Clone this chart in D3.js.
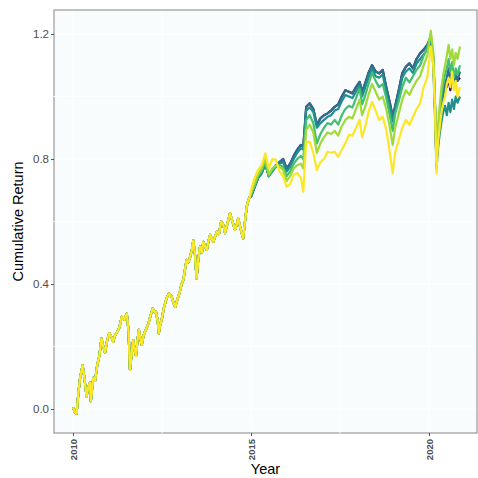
<!DOCTYPE html>
<html>
<head>
<meta charset="utf-8">
<script src="https://cdn.jsdelivr.net/npm/d3@7"></script>
<style>
  body { margin: 0; background: #fff; }
  svg { display: block; font-family: "Liberation Sans", Arial, sans-serif; }
</style>
</head>
<body>
<svg id="chart" width="478" height="478"></svg>
<script>
const W = 478, H = 478;
const M = { left: 54, right: 1, top: 10, bottom: 45 };

// shared path of all series, 2010 - 2014
const earlyYears = [2010.0, 2010.05, 2010.1, 2010.15, 2010.2, 2010.27, 2010.32, 2010.38, 2010.43, 2010.48,
  2010.5, 2010.57, 2010.62, 2010.68, 2010.74, 2010.8, 2010.85, 2010.9, 2010.96, 2011.02,
  2011.08, 2011.13, 2011.18, 2011.23, 2011.3, 2011.37, 2011.44, 2011.51, 2011.56, 2011.6,
  2011.65, 2011.69, 2011.73, 2011.77, 2011.81, 2011.85, 2011.9, 2011.93, 2011.98, 2012.02,
  2012.07, 2012.12, 2012.18, 2012.24, 2012.29, 2012.33, 2012.38, 2012.41, 2012.45, 2012.49,
  2012.53, 2012.56, 2012.63, 2012.7, 2012.77, 2012.82, 2012.87, 2012.93, 2013.0, 2013.05,
  2013.1, 2013.15, 2013.19, 2013.24, 2013.29, 2013.34, 2013.38, 2013.43, 2013.47, 2013.52,
  2013.57, 2013.62, 2013.66, 2013.71, 2013.76, 2013.8, 2013.85, 2013.9, 2013.94, 2014.0,
  2014.04, 2014.1, 2014.16, 2014.22, 2014.27, 2014.33, 2014.41, 2014.48, 2014.55, 2014.6,
  2014.64, 2014.7, 2014.78, 2014.83, 2014.88, 2014.93, 2014.97];
const earlyValues = [0.005, -0.01, -0.015, 0.05, 0.10, 0.14, 0.10, 0.04, 0.07, 0.085,
  0.025, 0.10, 0.09, 0.14, 0.17, 0.225, 0.20, 0.18, 0.22, 0.243,
  0.23, 0.215, 0.235, 0.245, 0.26, 0.295, 0.285, 0.305, 0.25, 0.125,
  0.18, 0.22, 0.19, 0.17, 0.22, 0.253, 0.22, 0.205, 0.235, 0.247,
  0.26, 0.274, 0.30, 0.322, 0.31, 0.311, 0.28, 0.242, 0.27, 0.285,
  0.31, 0.327, 0.355, 0.37, 0.36, 0.34, 0.327, 0.35, 0.375, 0.40,
  0.413, 0.45, 0.477, 0.47, 0.487, 0.51, 0.54, 0.49, 0.418, 0.48,
  0.52, 0.50, 0.535, 0.52, 0.509, 0.535, 0.557, 0.545, 0.535, 0.555,
  0.567, 0.56, 0.60, 0.59, 0.563, 0.59, 0.626, 0.60, 0.573, 0.59,
  0.61, 0.58, 0.546, 0.60, 0.647, 0.67, 0.68];

// 2015 onwards, where the series split
const lateYears = [2015.0, 2015.1, 2015.2, 2015.3, 2015.4, 2015.5, 2015.6, 2015.7, 2015.8, 2015.9,
  2016.0, 2016.1, 2016.2, 2016.3, 2016.4, 2016.47, 2016.55, 2016.65, 2016.75, 2016.85,
  2016.95, 2017.05, 2017.15, 2017.25, 2017.35, 2017.45, 2017.55, 2017.65, 2017.75, 2017.85,
  2017.95, 2018.05, 2018.12, 2018.2, 2018.3, 2018.4, 2018.5, 2018.6, 2018.7, 2018.8,
  2018.9, 2018.98, 2019.05, 2019.15, 2019.25, 2019.35, 2019.45, 2019.55, 2019.65, 2019.75,
  2019.85, 2019.95, 2020.05, 2020.12, 2020.17, 2020.21, 2020.25, 2020.3, 2020.35, 2020.4,
  2020.45, 2020.5, 2020.55, 2020.6, 2020.65, 2020.7, 2020.75, 2020.8, 2020.87];

const purpleLate = [0.68, 0.71, 0.74, 0.755, 0.785, 0.745, 0.765, 0.78, 0.79, 0.80,
  0.77, 0.785, 0.81, 0.83, 0.845, 0.84, 0.967, 0.978, 0.96, 0.91,
  0.93, 0.94, 0.946, 0.955, 0.967, 0.975, 1.0, 1.02, 1.015, 1.01,
  1.03, 1.047, 1.015, 1.04, 1.075, 1.10, 1.08, 1.074, 1.085, 1.03,
  0.98, 0.935, 0.97, 1.02, 1.075, 1.095, 1.106, 1.09, 1.12, 1.138,
  1.15, 1.165, 1.19, 1.12, 0.96, 0.78, 0.86, 0.92, 0.97, 1.01,
  1.03, 1.03, 1.06, 1.02, 1.07, 1.04, 1.065, 1.05, 1.06];
const blueLate = [0.68, 0.71, 0.74, 0.755, 0.785, 0.745, 0.765, 0.78, 0.79, 0.80,
  0.77, 0.785, 0.81, 0.83, 0.845, 0.84, 0.967, 0.978, 0.96, 0.91,
  0.93, 0.94, 0.946, 0.955, 0.967, 0.975, 1.0, 1.02, 1.015, 1.01,
  1.03, 1.047, 1.015, 1.04, 1.075, 1.10, 1.08, 1.074, 1.085, 1.03,
  0.98, 0.935, 0.97, 1.02, 1.075, 1.095, 1.106, 1.09, 1.12, 1.138,
  1.15, 1.165, 1.19, 1.12, 0.96, 0.78, 0.86, 0.92, 0.97, 1.01,
  1.04, 1.06, 1.09, 1.05, 1.08, 1.04, 1.07, 1.05, 1.08];
const tealLate = [0.68, 0.71, 0.74, 0.755, 0.785, 0.745, 0.76, 0.775, 0.785, 0.79,
  0.76, 0.775, 0.80, 0.82, 0.835, 0.83, 0.955, 0.965, 0.95, 0.90,
  0.915, 0.925, 0.935, 0.94, 0.955, 0.96, 0.985, 1.005, 1.0, 0.995,
  1.015, 1.035, 1.0, 1.025, 1.06, 1.09, 1.065, 1.06, 1.07, 1.015,
  0.965, 0.92, 0.96, 1.005, 1.06, 1.08, 1.09, 1.075, 1.105, 1.12,
  1.135, 1.15, 1.18, 1.10, 0.93, 0.77, 0.83, 0.88, 0.92, 0.95,
  0.97, 0.94, 0.98, 0.95, 0.99, 0.96, 1.0, 0.98, 1.0];
const greenLate = [0.685, 0.715, 0.745, 0.76, 0.79, 0.745, 0.765, 0.775, 0.78, 0.775,
  0.745, 0.76, 0.785, 0.80, 0.81, 0.80, 0.925, 0.94, 0.915, 0.85,
  0.88, 0.90, 0.915, 0.91, 0.925, 0.91, 0.94, 0.96, 0.97, 0.965,
  0.995, 1.025, 0.975, 1.0, 1.04, 1.075, 1.05, 1.03, 1.04, 0.995,
  0.94, 0.89, 0.945, 0.985, 1.03, 1.06, 1.045, 1.065, 1.085, 1.10,
  1.13, 1.155, 1.20, 1.13, 0.97, 0.79, 0.88, 0.95, 1.0, 1.04,
  1.07, 1.09, 1.12, 1.08, 1.11, 1.06, 1.09, 1.07, 1.10];
const limeLate = [0.69, 0.72, 0.75, 0.77, 0.80, 0.75, 0.77, 0.78, 0.775, 0.765,
  0.73, 0.745, 0.77, 0.78, 0.785, 0.77, 0.893, 0.91, 0.885, 0.82,
  0.85, 0.87, 0.885, 0.88, 0.89, 0.875, 0.905, 0.925, 0.935, 0.93,
  0.96, 0.99, 0.94, 0.965, 1.005, 1.04, 1.015, 0.99, 1.0, 0.96,
  0.90, 0.845, 0.90, 0.945, 0.99, 1.02, 1.005, 1.03, 1.05, 1.065,
  1.10, 1.13, 1.21, 1.14, 0.98, 0.80, 0.90, 0.97, 1.03, 1.07,
  1.10, 1.13, 1.165, 1.12, 1.15, 1.10, 1.14, 1.12, 1.16];
const yellowLate = [0.70, 0.74, 0.765, 0.78, 0.818, 0.77, 0.80, 0.797, 0.76, 0.745,
  0.711, 0.72, 0.75, 0.755, 0.74, 0.695, 0.855, 0.855, 0.82, 0.765,
  0.79, 0.80, 0.823, 0.82, 0.823, 0.807, 0.83, 0.85, 0.877, 0.875,
  0.90, 0.925, 0.87, 0.90, 0.95, 0.983, 0.955, 0.925, 0.935, 0.893,
  0.82, 0.754, 0.82, 0.861, 0.90, 0.925, 0.909, 0.935, 0.96, 0.978,
  1.03, 1.06, 1.16, 1.10, 0.95, 0.754, 0.85, 0.90, 0.95, 0.98,
  1.00, 1.04, 1.06, 1.03, 1.08, 1.02, 1.05, 1.00, 1.03];

const seriesNames = ['purple', 'blue', 'teal', 'green', 'lime', 'yellow'];
const seriesColors = ['#440154', '#2c6f8e', '#21908d', '#43bf71', '#a0da39', '#fde725'];
const seriesLate = [purpleLate, blueLate, tealLate, greenLate, limeLate, yellowLate];

const xTicks = [2010, 2015, 2020];
const yTicks = [0, 0.4, 0.8, 1.2];

const svg = d3.select('#chart');

const x = d3.scaleLinear()
  .domain([2009.466, 2021.348])
  .range([M.left, W - M.right]);
const y = d3.scaleLinear()
  .domain([-0.0768, 1.2768])
  .range([H - M.bottom, M.top]);

// panel
svg.append('rect')
  .attr('x', M.left).attr('y', M.top)
  .attr('width', W - M.left - M.right).attr('height', H - M.top - M.bottom)
  .attr('fill', '#f8fcfd')
  .attr('stroke', '#858585')
  .attr('stroke-width', 1);

// white grid lines, minor ones cut through the border like in the original
const minorX = [2012.5, 2017.5];
const minorY = [0.2, 0.6, 1.0];
const grid = svg.append('g').attr('stroke', '#ffffff').attr('stroke-width', 1);
grid.selectAll('.gx').data(xTicks.concat(minorX)).enter().append('line')
  .attr('x1', d => x(d)).attr('x2', d => x(d))
  .attr('y1', M.top + 1).attr('y2', d => minorX.includes(d) ? H - M.bottom + 0.5 : H - M.bottom - 1);
grid.selectAll('.gy').data(yTicks.concat(minorY)).enter().append('line')
  .attr('y1', d => y(d)).attr('y2', d => y(d))
  .attr('x1', d => minorY.includes(d) ? M.left - 0.5 : M.left + 1).attr('x2', W - M.right - 1);

// lines
const line = d3.line()
  .x(d => x(d[0]))
  .y(d => y(d[1]));

seriesLate.forEach((late, i) => {
  const pts = earlyYears.map((t, k) => [t, earlyValues[k]])
    .concat(lateYears.map((t, k) => [t, late[k]]));
  svg.append('path')
    .datum(pts)
    .attr('fill', 'none')
    .attr('stroke', seriesColors[i])
    .attr('stroke-width', 2.2)
    .attr('stroke-linejoin', 'round')
    .attr('class', 'series-' + seriesNames[i])
    .attr('d', line);
});

// axes
const xAxis = d3.axisBottom(x).tickValues(xTicks).tickFormat(d3.format('d')).tickSize(3).tickPadding(3);
const yAxis = d3.axisLeft(y).tickValues(yTicks).tickFormat(d3.format('.1f')).tickSize(3).tickPadding(2);

const gx = svg.append('g')
  .attr('transform', 'translate(0,' + (H - M.bottom) + ')')
  .call(xAxis);
gx.select('.domain').remove();
gx.selectAll('.tick line').attr('stroke', '#555');
gx.selectAll('.tick text')
  .attr('transform', 'rotate(-90)')
  .attr('text-anchor', 'end')
  .attr('x', -6).attr('y', 0).attr('dy', '0.35em')
  .attr('fill', '#4d4d4d')
  .style('font-size', '9.5px')
  .style('font-weight', 'bold');

const gy = svg.append('g')
  .attr('transform', 'translate(' + M.left + ',0)')
  .call(yAxis);
gy.select('.domain').remove();
gy.selectAll('.tick line').attr('stroke', '#555');
gy.selectAll('.tick text')
  .attr('fill', '#4d4d4d')
  .style('font-size', '11.5px');

svg.append('text')
  .attr('x', (M.left + W - M.right) / 2)
  .attr('y', 474)
  .attr('text-anchor', 'middle')
  .style('font-size', '14.5px')
  .text('Year');

svg.append('text')
  .attr('transform', 'rotate(-90)')
  .attr('x', -((M.top + H - M.bottom) / 2))
  .attr('y', 23)
  .attr('text-anchor', 'middle')
  .style('font-size', '14.5px')
  .text('Cumulative Return');
</script>
</body>
</html>
